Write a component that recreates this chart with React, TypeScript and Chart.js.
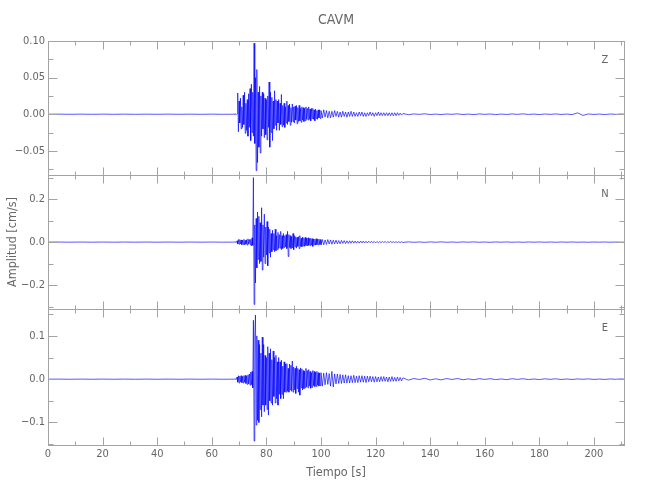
import React, { useEffect, useRef } from "react";
import { Chart, registerables } from "chart.js";

Chart.register(...registerables);

// ---------- data ----------
const TITLE = "CAVM";
const X_LABEL = "Tiempo [s]";
const Y_LABEL = "Amplitud [cm/s]";
const COMPONENTS = ["Z", "N", "E"];

const X_MIN = 0;
const X_MAX = 211;
const X_TICKS = [0, 20, 40, 60, 80, 100, 120, 140, 160, 180, 200];

const Y_TICKS_Z = [-0.05, 0, 0.05, 0.1];
const Y_TICKS_N = [-0.2, 0, 0.2];
const Y_TICKS_E = [-0.1, 0, 0.1];

// sampling of the four segments (s)
const PRE_T0 = 0;
const PRE_DT = 4;
const EV1_T0 = 68;
const EV1_DT = 0.25;
const EV2_T0 = 100;
const EV2_DT = 0.5;
const TAIL_T0 = 132;
const TAIL_DT = 2;

// --- Z component (cm/s)
const Z_PRE = [0, 0.0001, -0.0001, 0.0001, -0.0001, 0.0001, -0.0001, 0.0001, -0.0001, 0.0001, -0.0001, 0.0001, -0.0001, 0.0001, -0.0001, 0.0001, -0.0001];
const Z_EV1 = [
  0, 0.0003, -0.0003, 0.0004, -0.0004, 0.0005, 0.029, -0.024,
  0.018, -0.012, 0.022, -0.02, 0.01, -0.018, 0.026, -0.014,
  0.03, -0.026, 0.015, -0.022, 0.02, -0.03, 0.028, -0.018,
  0.035, -0.036, 0.041, -0.025, 0.03, -0.03, 0.097, -0.04,
  0.05, -0.077, 0.061, -0.066, 0.03, -0.045, 0.038, -0.053,
  0.025, -0.03, 0.03, -0.02, 0.028, -0.032, 0.022, -0.028,
  0.02, -0.035, 0.025, -0.018, 0.044, -0.045, 0.03, -0.025,
  0.023, -0.036, 0.018, -0.02, 0.032, -0.015, 0.02, -0.022,
  0.018, -0.012, 0.02, -0.022, 0.015, -0.014, 0.027, -0.017,
  0.012, -0.015, 0.015, -0.018, 0.01, -0.012, 0.018, -0.014,
  0.012, -0.01, 0.014, -0.015, 0.009, -0.011, 0.014, -0.01,
  0.01, -0.012, 0.011, -0.008, 0.012, -0.013, 0.009, -0.01,
  0.012, -0.009, 0.008, -0.011, 0.01, -0.008, 0.009, -0.01,
  0.008, -0.009, 0.01, -0.007, 0.008, -0.008, 0.01, -0.007,
  0.007, -0.009, 0.008, -0.006, 0.008, -0.007, 0.006, -0.009,
  0.007, -0.006, 0.005, -0.007, 0.006, -0.005, 0.006, -0.006,
];
const Z_EV2 = [
  0.005, -0.005, 0.006, -0.004, 0.005, -0.005,
  0.004, -0.005, 0.004, -0.004, 0.005, -0.003, 0.004, -0.004, 0.003, -0.004,
  0.004, -0.003, 0.003, -0.004, 0.003, -0.003, 0.004, -0.003, 0.003, -0.003,
  0.002, -0.003, 0.003, -0.002, 0.003, -0.003, 0.002, -0.003, 0.002, -0.002,
  0.003, -0.002, 0.002, -0.003, 0.002, -0.002, 0.003, -0.002, 0.002, -0.002,
  0.002, -0.002, 0.002, -0.002, 0.002, -0.002, 0.002, -0.002, 0.002, -0.002,
  0.002, -0.0015, 0.0015, -0.0012, 0.001,
];
const Z_TAIL = [
  -0.0006, 0.0004, -0.0002, 0.0006, -0.0004, 0.0002, -0.0005, 0.0003, -0.0001, 0.0005,
  -0.0004, 0.0002, -0.0005, 0.0004, -0.0002, 0.0003, -0.0005, 0.0002, -0.0003, 0.0004,
  -0.0002, 0.0005, -0.0003, 0.0002, -0.0004, 0.0003, -0.0002, 0.0004, -0.0003, 0.0002,
  -0.0005, 0.0018, -0.0016, 0.0004, -0.0003, 0.0002, -0.0004, 0.0003, -0.0002, 0.0003, -0.0002,
];

// --- N component (cm/s)
const N_PRE = [0, 0.0003, -0.0003, 0.0003, -0.0003, 0.0003, -0.0003, 0.0003, -0.0003, 0.0003, -0.0003, 0.0003, -0.0003, 0.0003, -0.0003, 0.0003, -0.0003];
const N_EV1 = [
  0, 0.0006, -0.0006, 0.0008, -0.0008, 0.006, -0.009, 0.012,
  -0.01, 0.012, -0.008, 0.01, -0.012, 0.009, -0.011, 0.013,
  -0.012, 0.008, -0.01, 0.011, -0.014, 0.015, -0.009, 0.012,
  -0.011, 0.013, -0.018, 0.02, -0.015, 0.3, -0.29, 0.08,
  -0.19, 0.11, -0.12, 0.14, -0.08, 0.12, -0.1, 0.09,
  -0.09, 0.16, -0.13, 0.08, -0.07, 0.13, -0.1, 0.07,
  -0.06, 0.096, -0.11, 0.07, -0.05, 0.06, -0.07, 0.04,
  -0.045, 0.055, -0.035, 0.04, -0.045, 0.06, -0.04, 0.03,
  -0.036, 0.045, -0.03, 0.035, -0.028, 0.05, -0.035, 0.03,
  -0.03, 0.04, -0.025, 0.03, -0.022, 0.035, -0.03, 0.05,
  -0.067, 0.035, -0.025, 0.03, -0.03, 0.025, -0.028, 0.04,
  -0.035, 0.03, -0.022, 0.025, -0.028, 0.022, -0.02, 0.025,
  -0.03, 0.03, -0.02, 0.018, -0.022, 0.024, -0.018, 0.02,
  -0.02, 0.022, -0.016, 0.018, -0.018, 0.02, -0.015, 0.017,
  -0.017, 0.018, -0.014, 0.016, -0.02, 0.015, -0.013, 0.014,
  -0.014, 0.016, -0.012, 0.013, -0.013, 0.014, -0.011, 0.012,
];
const N_EV2 = [
  -0.012, 0.012, -0.013, 0.01, -0.011, 0.012,
  -0.009, 0.01, -0.01, 0.009, -0.008, 0.009, -0.008, 0.007, -0.008, 0.008,
  -0.006, 0.007, -0.007, 0.006, -0.006, 0.006, -0.005, 0.006, -0.005, 0.005,
  -0.005, 0.004, -0.005, 0.005, -0.004, 0.005, -0.004, 0.004, -0.004, 0.004,
  -0.003, 0.004, -0.003, 0.003, -0.004, 0.003, -0.003, 0.003, -0.003, 0.003,
  -0.002, 0.003, -0.003, 0.002, -0.002, 0.003, -0.002, 0.002, -0.002, 0.002,
  -0.002, 0.002, -0.002, 0.0015, -0.0015,
];
const N_TAIL = [
  0.0012, -0.0009, 0.0006, -0.0012, 0.001, -0.0006, 0.0011, -0.0008, 0.0005, -0.001,
  0.0009, -0.0005, 0.0009, -0.0008, 0.0004, -0.0009, 0.0008, -0.0005, 0.0008, -0.0007,
  0.0004, -0.0008, 0.0007, -0.0004, 0.0007, -0.0006, 0.0004, -0.0007, 0.0006, -0.0004,
  0.0006, -0.0006, 0.0003, -0.0006, 0.0005, -0.0003, 0.0006, -0.0005, 0.0003, -0.0005, 0.0004,
];

// --- E component (cm/s)
const E_PRE = [0, 0.0002, -0.0002, 0.0002, -0.0002, 0.0002, -0.0002, 0.0002, -0.0002, 0.0002, -0.0002, 0.0002, -0.0002, 0.0002, -0.0002, 0.0002, -0.0002];
const E_EV1 = [
  0, 0.0004, -0.0004, 0.0005, -0.0005, 0.005, -0.007, 0.008,
  -0.009, 0.007, -0.006, 0.008, -0.008, 0.006, -0.009, 0.008,
  -0.007, 0.009, -0.01, 0.007, -0.012, 0.01, -0.011, 0.012,
  -0.014, 0.016, -0.013, 0.018, -0.02, 0.136, -0.143, 0.1,
  0.148, -0.106, 0.1, -0.095, 0.09, -0.1, 0.08, -0.07,
  0.06, -0.087, 0.097, -0.06, 0.08, -0.075, 0.055, -0.06,
  0.05, -0.07, 0.075, -0.083, 0.06, -0.05, 0.07, -0.055,
  0.045, -0.06, 0.065, -0.04, 0.05, -0.055, 0.055, -0.045,
  0.04, -0.06, 0.05, -0.035, 0.04, -0.045, 0.044, -0.035,
  0.03, -0.045, 0.04, -0.03, 0.035, -0.03, 0.036, -0.028,
  0.025, -0.03, 0.035, -0.025, 0.032, -0.028, 0.042, -0.03,
  0.028, -0.025, 0.025, -0.033, 0.03, -0.022, 0.025, -0.03,
  0.022, -0.037, 0.026, -0.02, 0.024, -0.025, 0.02, -0.022,
  0.018, -0.02, 0.025, -0.018, 0.02, -0.02, 0.022, -0.016,
  0.018, -0.021, 0.015, -0.019, 0.02, -0.015, 0.018, -0.017,
  0.016, -0.017, 0.018, -0.014, 0.015, -0.016, 0.014, -0.015,
];
const E_EV2 = [
  0.015, -0.016, 0.014, -0.013, 0.015, -0.012,
  0.013, -0.016, 0.018, -0.018, 0.012, -0.011, 0.012, -0.01, 0.011, -0.01,
  0.01, -0.009, 0.01, -0.009, 0.008, -0.009, 0.008, -0.008, 0.009, -0.008,
  0.007, -0.008, 0.008, -0.007, 0.008, -0.007, 0.007, -0.008, 0.007, -0.006,
  0.007, -0.006, 0.006, -0.007, 0.006, -0.006, 0.005, -0.006, 0.006, -0.005,
  0.006, -0.005, 0.005, -0.006, 0.005, -0.005, 0.006, -0.005, 0.004, -0.005,
  0.005, -0.004, 0.004, -0.004, 0.003,
];
const E_TAIL = [
  -0.0022, 0.0016, -0.0008, 0.002, -0.0018, 0.0009, -0.0017, 0.0014, -0.0007, 0.0015,
  -0.0013, 0.0006, -0.0014, 0.0012, -0.0006, 0.0012, -0.0011, 0.0005, -0.0011, 0.001,
  -0.0005, 0.001, -0.0009, 0.0004, -0.0009, 0.0008, -0.0004, 0.0008, -0.0007, 0.0004,
  -0.0007, 0.0006, -0.0003, 0.0007, -0.0006, 0.0003, -0.0006, 0.0005, -0.0003, 0.0005, -0.0004,
];

// ---------- style / layout ----------
const FONT = '"Liberation Sans Narrow", "DejaVu Sans Condensed", "Liberation Sans", sans-serif';
const TEXT = "#666666";
const AXIS = "#a3a3a3";
const TRACE = "rgba(0,0,255,0.78)";
const W = 650;
const H = 500;

type Panel = {
  name: string;
  top: number;
  bottom: number;
  min: number;
  max: number;
  ticks: number[];
  minor: number;
  decimals: number;
  pre: number[];
  ev1: number[];
  ev2: number[];
  tail: number[];
};

const PANELS: Panel[] = [
  { name: COMPONENTS[0], top: 41, bottom: 175, min: -0.083, max: 0.1, ticks: Y_TICKS_Z, minor: 0.025, decimals: 2, pre: Z_PRE, ev1: Z_EV1, ev2: Z_EV2, tail: Z_TAIL },
  { name: COMPONENTS[1], top: 175, bottom: 309, min: -0.311, max: 0.312, ticks: Y_TICKS_N, minor: 0.1, decimals: 1, pre: N_PRE, ev1: N_EV1, ev2: N_EV2, tail: N_TAIL },
  { name: COMPONENTS[2], top: 309, bottom: 445, min: -0.152, max: 0.162, ticks: Y_TICKS_E, minor: 0.05, decimals: 1, pre: E_PRE, ev1: E_EV1, ev2: E_EV2, tail: E_TAIL },
];

function seg(t0: number, dt: number, vals: number[]) {
  return vals.map((v, i) => ({ x: t0 + i * dt, y: v }));
}

function fmt(v: number, d: number) {
  const s = Math.abs(v) < 1e-12 ? (0).toFixed(d) : v.toFixed(d);
  return s.replace("-", "\u2212");
}

function framePlugin(p: Panel) {
  return {
    id: "frame" + p.name,
    afterDraw(chart: any) {
      const { ctx, chartArea: a, scales } = chart;
      const xs = scales.x;
      const ys = scales.y;
      ctx.save();
      ctx.strokeStyle = AXIS;
      ctx.lineWidth = 1;
      const L = Math.round(a.left) + 0.5;
      const R = Math.round(a.right) + 0.5;
      const T = Math.round(a.top) + 0.5;
      const B = Math.round(a.bottom) + 0.5;
      ctx.strokeRect(L, T, R - L, B - T);
      ctx.beginPath();
      for (let v = X_MIN; v <= X_MAX; v += 10) {
        const px = Math.round(xs.getPixelForValue(v)) + 0.5;
        const len = X_TICKS.includes(v) ? 8 : 4;
        ctx.moveTo(px, T);
        ctx.lineTo(px, T + len);
        ctx.moveTo(px, B);
        ctx.lineTo(px, B - len);
      }
      const start = Math.ceil(p.min / p.minor - 1e-9);
      const end = Math.floor(p.max / p.minor + 1e-9);
      for (let k = start; k <= end; k++) {
        const v = k * p.minor;
        const major = p.ticks.some((t) => Math.abs(t - v) < 1e-9);
        const len = major ? 9 : 5;
        const py = Math.round(ys.getPixelForValue(v)) + 0.5;
        ctx.moveTo(L, py);
        ctx.lineTo(L + len, py);
        ctx.moveTo(R, py);
        ctx.lineTo(R - len, py);
      }
      ctx.stroke();
      ctx.fillStyle = TEXT;
      ctx.font = `11px ${FONT}`;
      ctx.textAlign = "center";
      ctx.textBaseline = "middle";
      ctx.fillText(p.name, a.right - 19, a.top + 19);
      ctx.restore();
    },
  };
}

function makeConfig(p: Panel, idx: number): any {
  const isTop = idx === 0;
  const isMid = idx === 1;
  const isBottom = idx === PANELS.length - 1;
  const data = [
    ...seg(PRE_T0, PRE_DT, p.pre),
    ...seg(EV1_T0, EV1_DT, p.ev1),
    ...seg(EV2_T0, EV2_DT, p.ev2),
    ...seg(TAIL_T0, TAIL_DT, p.tail),
  ];
  return {
    type: "line",
    data: {
      datasets: [
        {
          data,
          borderColor: TRACE,
          borderWidth: 0.85,
          pointRadius: 0,
          tension: 0,
          fill: false,
        },
      ],
    },
    options: {
      animation: false,
      responsive: false,
      maintainAspectRatio: false,
      events: [],
      layout: {
        padding: {
          left: 0,
          right: 26,
          top: isTop ? 0 : p.top,
          bottom: isBottom ? 0 : H - p.bottom,
        },
      },
      plugins: {
        legend: { display: false },
        tooltip: { enabled: false },
        title: {
          display: isTop,
          text: TITLE,
          fullSize: false,
          color: TEXT,
          font: { family: FONT, size: 14, weight: "normal", lineHeight: 1.2 },
          padding: { top: 12, bottom: 12.2 },
        },
      },
      scales: {
        x: {
          type: "linear",
          min: X_MIN,
          max: X_MAX,
          grid: { display: false, drawTicks: false },
          border: { display: false },
          ticks: {
            display: isBottom,
            autoSkip: false,
            maxRotation: 0,
            padding: 3,
            color: TEXT,
            font: { family: FONT, size: 11 },
            callback: (v: number) => String(v),
          },
          afterBuildTicks: (s: any) => {
            s.ticks = X_TICKS.map((v) => ({ value: v }));
          },
          afterFit: (s: any) => {
            s.height = isBottom ? H - p.bottom : 0;
          },
          title: {
            display: isBottom,
            text: X_LABEL,
            color: TEXT,
            font: { family: FONT, size: 12.5, lineHeight: 1.2 },
            padding: { top: 0, bottom: 20 },
          },
        },
        y: {
          type: "linear",
          min: p.min,
          max: p.max,
          grid: { display: false, drawTicks: false },
          border: { display: false },
          ticks: {
            autoSkip: false,
            padding: 3,
            color: TEXT,
            font: { family: FONT, size: 11 },
            callback: (v: number) => fmt(v, p.decimals),
          },
          afterBuildTicks: (s: any) => {
            s.ticks = p.ticks.map((v) => ({ value: v }));
          },
          afterFit: (s: any) => {
            s.width = 48;
          },
          title: {
            display: isMid,
            text: Y_LABEL,
            color: TEXT,
            font: { family: FONT, size: 12.5, lineHeight: 1.2 },
            padding: { top: 5, bottom: 0 },
          },
        },
      },
    },
    plugins: [framePlugin(p)],
  };
}

function PanelChart({ panel, index }: { panel: Panel; index: number }) {
  const ref = useRef<HTMLCanvasElement | null>(null);
  useEffect(() => {
    if (!ref.current) return;
    const chart = new Chart(ref.current, makeConfig(panel, index));
    return () => chart.destroy();
  }, [panel, index]);
  return (
    <canvas
      ref={ref}
      width={W}
      height={H}
      style={{ position: "absolute", left: 0, top: 0, width: W, height: H }}
    />
  );
}

export default function App() {
  return (
    <div
      style={{
        position: "fixed",
        left: 0,
        top: 0,
        width: W,
        height: H,
        background: "#ffffff",
        overflow: "hidden",
      }}
    >
      {PANELS.map((p, i) => (
        <PanelChart key={p.name} panel={p} index={i} />
      ))}
    </div>
  );
}
